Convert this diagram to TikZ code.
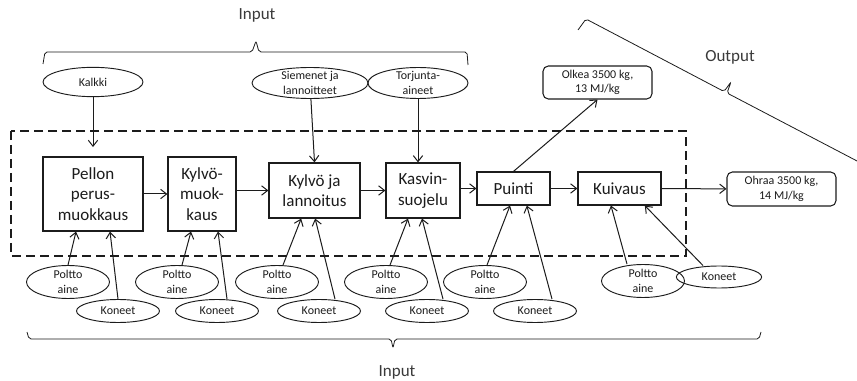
\documentclass[tikz,border=0pt]{standalone}
\usepackage{fontspec}
\setsansfont{Carlito}
\usetikzlibrary{arrows.meta,shapes.geometric}
\definecolor{Canvas}{HTML}{FFFFFF}
\definecolor{Ink}{HTML}{1C1C1C}
\definecolor{Caption}{HTML}{3A3A3A}

\begin{document}
\begin{tikzpicture}[x=0.75pt,y=-0.75pt,font=\sffamily,text=Ink,stage/.style={draw=Ink,line width=0.9pt,align=center,inner sep=2pt,font=\sffamily\fontsize{12.75}{15.5}\selectfont},oval/.style={ellipse,draw=Ink,line width=0.7pt,align=center,inner xsep=0pt,inner ysep=-2pt,font=\sffamily\fontsize{9}{11.25}\selectfont},yield/.style={draw=Ink,rounded corners=4pt,line width=0.8pt,align=center,inner sep=2pt,font=\sffamily\fontsize{9}{10.75}\selectfont},arrow/.style={-{Straight Barb[length=4.5pt,width=7pt]},line width=0.75pt,draw=Ink},curly/.style={draw=Ink,line width=0.6pt,rounded corners=1.5pt},headline/.style={font=\sffamily\fontsize{12.75}{15}\selectfont,text=Caption},frame/.style={draw=Ink,line width=1.3pt,dash pattern=on 6.75pt off 3.75pt}]
\useasboundingbox (0,0) rectangle (857,381);
\fill[Canvas] (0,0) rectangle (857,381);
\node[headline] (inputtop) at (257,15){Input};
\node[headline] (output) at (730,57){Output};
\node[headline] (inputbottom) at (397,372){Input};
\draw[curly] (43,64) -- (45,52) -- (252,52) -- (256,41) -- (259,52) -- (467,52) -- (468,65);
\draw[curly] (578,30) -- (586,19) -- (724,91.5) -- (731,82) -- (727,93) -- (880,173);
\draw[curly] (27,332) -- (29,339) -- (391,339) -- (393,348) -- (395,339) -- (759,339) -- (761,332);
\node[oval,minimum width=75pt,minimum height=22pt] (kalkki) at (93,82){Kalkki};
\node[oval,minimum width=87pt,minimum height=23.25pt] (siemenet) at (310,83){Siemenet ja\\lannoitteet};
\node[oval,minimum width=75pt,minimum height=23.25pt] (torjunta) at (418,83){Torjunta-\\aineet};
\draw[frame] (11,131) rectangle (686,256);
\node[stage,minimum width=75pt,minimum height=55.5pt] (pellon) at (93,194){Pellon\\perus-\\muokkaus};
\node[stage,minimum width=51pt,minimum height=55.5pt] (kylvomuok) at (202,194){Kylvö-\\muok-\\kaus};
\node[stage,minimum width=68.25pt,minimum height=41.25pt] (kylvo) at (314.5,190.5){Kylvö ja\\lannoitus};
\node[stage,minimum width=55.5pt,minimum height=41.25pt] (kasvin) at (423,190.5){Kasvin-\\suojelu};
\node[stage,minimum width=54.75pt,minimum height=24.75pt] (puinti) at (513.5,188.5){Puinti};
\node[stage,minimum width=62.25pt,minimum height=24.75pt] (kuivaus) at (619.5,188.5){Kuivaus};
\node[yield,minimum width=81.75pt,minimum height=24.75pt] (olkea) at (597.5,82.5){Olkea 3500 kg,\\13 MJ/kg};
\node[yield,minimum width=81.75pt,minimum height=25.5pt] (ohraa) at (781.5,189){Ohraa 3500 kg,\\14 MJ/kg};
\node[oval,minimum width=62.25pt,minimum height=24.75pt] (pa1) at (68,282){Poltto\\aine};
\node[oval,minimum width=62.25pt,minimum height=17.25pt] (ko1) at (118,311){Koneet};
\node[oval,minimum width=62.25pt,minimum height=24.75pt] (pa2) at (177,282){Poltto\\aine};
\node[oval,minimum width=62.25pt,minimum height=17.25pt] (ko2) at (217,311){Koneet};
\node[oval,minimum width=62.25pt,minimum height=24.75pt] (pa3) at (277,282){Poltto\\aine};
\node[oval,minimum width=62.25pt,minimum height=17.25pt] (ko3) at (319,311){Koneet};
\node[oval,minimum width=62.25pt,minimum height=24.75pt] (pa4) at (386,282){Poltto\\aine};
\node[oval,minimum width=62.25pt,minimum height=17.25pt] (ko4) at (427,311){Koneet};
\node[oval,minimum width=62.25pt,minimum height=24.75pt] (pa5) at (485,282){Poltto\\aine};
\node[oval,minimum width=62.25pt,minimum height=17.25pt] (ko5) at (535,311){Koneet};
\node[oval,minimum width=62.25pt,minimum height=24.75pt] (pa6) at (643,281){Poltto\\aine};
\node[oval,minimum width=64pt,minimum height=16.5pt] (ko6) at (719,277){Koneet};
\draw[arrow,shorten >=7pt] (kalkki) -- (pellon);
\draw[arrow] (siemenet) -- (kylvo.north);\draw[arrow] (torjunta) -- (torjunta |- kasvin.north);
\draw[arrow] (pellon) -- (kylvomuok);\draw[arrow] (kylvomuok.east |- kylvo) -- (kylvo.west);\draw[arrow] (kylvo) -- (kasvin);
\draw[arrow] (kasvin.east |- puinti) -- (puinti.west);\draw[arrow] (puinti) -- (kuivaus);\draw[arrow] (kuivaus) -- (ohraa);
\draw[arrow] (puinti.north) -- (olkea.south);
\draw[arrow] (pa1.north) -- ([xshift=-12.75pt]pellon.south);\draw[arrow] (ko1.north) -- ([xshift=12.75pt]pellon.south);
\draw[arrow] ([xshift=3.75pt]pa2.north) -- ([xshift=-8.25pt]kylvomuok.south);\draw[arrow] ([xshift=7.5pt]ko2.north) -- ([xshift=12pt]kylvomuok.south);
\draw[arrow] ([xshift=4.5pt]pa3.north) -- ([xshift=-10pt]kylvo.south);\draw[arrow] ([xshift=12pt]ko3.north) -- ([xshift=0.5pt]kylvo.south);
\draw[arrow] ([xshift=3pt]pa4.north) -- ([xshift=-11.25pt]kasvin.south);\draw[arrow] ([xshift=12pt]ko4.north) -- ([xshift=-0.75pt]kasvin.south);
\draw[arrow] ([xshift=1.5pt]pa5.north) -- ([xshift=-2.6pt]puinti.south);\draw[arrow] ([xshift=12.75pt]ko5.north) -- ([xshift=10pt]puinti.south);
\draw[arrow] ([xshift=-12pt]pa6.north) -- ([xshift=-6.4pt]kuivaus.south);\draw[arrow] ([xshift=-12pt]ko6.north) -- ([xshift=19pt]kuivaus.south);
\end{tikzpicture}
\end{document}
